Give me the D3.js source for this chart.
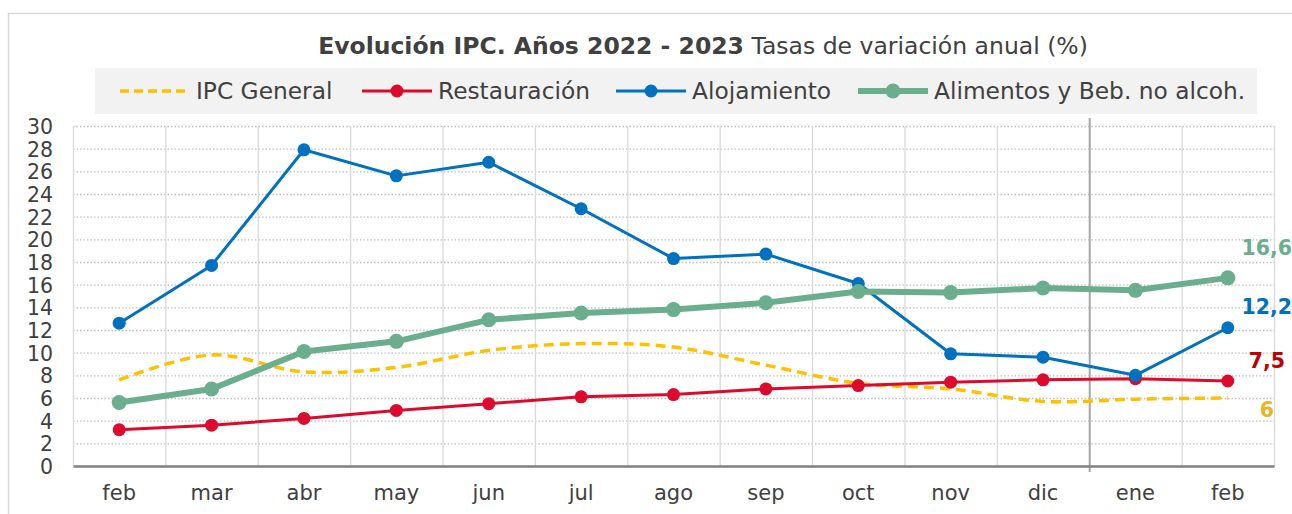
<!DOCTYPE html>
<html>
<head>
<meta charset="utf-8">
<script src="https://d3js.org/d3.v7.min.js"></script>
<style>
  body { margin: 0; background: #fff; }
  text { font-family: "DejaVu Sans", "Open Sans", sans-serif; fill: #404040; }
</style>
</head>
<body>
<div id="chart"></div>
<script>

// data
var months = ["feb", "mar", "abr", "may", "jun", "jul", "ago", "sep", "oct", "nov", "dic", "ene", "feb"];
var ipcGeneral   = [7.6, 9.8, 8.3, 8.7, 10.2, 10.8, 10.5, 8.9, 7.3, 6.8, 5.7, 5.9, 6.0];
var restauracion = [3.2, 3.6, 4.2, 4.9, 5.5, 6.1, 6.3, 6.8, 7.1, 7.4, 7.6, 7.7, 7.5];
var alojamiento  = [12.6, 17.7, 27.9, 25.6, 26.8, 22.7, 18.3, 18.7, 16.1, 9.9, 9.6, 8.0, 12.2];
var alimentos    = [5.6, 6.8, 10.1, 11.0, 12.9, 13.5, 13.8, 14.4, 15.4, 15.3, 15.7, 15.5, 16.6];
var seriesNames  = ["IPC General", "Restauración", "Alojamiento", "Alimentos y Beb. no alcoh."];
var endLabels    = ["6", "7,5", "12,2", "16,6"];
var yTicks = d3.range(0, 31, 2);

var W = 1292, H = 514;
var margin = {top: 126, right: 18, bottom: 48, left: 73};

var svg = d3.select("#chart").append("svg")
    .attr("width", W).attr("height", H);

// outer frame (cut off by the picture on the right and bottom)
svg.append("rect")
    .attr("x", 8.5).attr("y", 13.5)
    .attr("width", W).attr("height", H)
    .attr("fill", "none").attr("stroke", "#d9d9d9").attr("stroke-width", 1.5);

var x = d3.scaleBand()
    .domain(d3.range(months.length))
    .range([margin.left, W - margin.right])
    .paddingInner(0).paddingOuter(0);
var cx = function(i) { return x(i) + x.bandwidth() / 2; };

var y = d3.scaleLinear()
    .domain([0, 30])
    .range([H - margin.bottom, margin.top]);

// horizontal dotted gridlines
svg.append("g").selectAll("line")
  .data(yTicks.filter(function(d) { return d > 0; }))
  .enter().append("line")
    .attr("x1", margin.left).attr("x2", W - margin.right)
    .attr("y1", function(d) { return y(d) + 0.5; })
    .attr("y2", function(d) { return y(d) + 0.5; })
    .attr("stroke", "#bfbfbf").attr("stroke-width", 1.3)
    .attr("stroke-dasharray", "1.5,2");

// vertical gridlines between months
svg.append("g").selectAll("line")
  .data(d3.range(months.length + 1))
  .enter().append("line")
    .attr("x1", function(i) { return (i < months.length ? x(i) : x.range()[1]) + 0.5; })
    .attr("x2", function(i) { return (i < months.length ? x(i) : x.range()[1]) + 0.5; })
    .attr("y1", function(i) { return i == 11 ? margin.top - 8 : margin.top; })
    .attr("y2", function(i) { return i == 11 ? y(0) + 6 : y(0); })
    .attr("stroke", function(i) { return i == 11 ? "#a6a6a6" : "#d9d9d9"; })
    .attr("stroke-width", function(i) { return i == 11 ? 2 : 1.3; });

// y axis labels
var yAxis = svg.append("g")
    .attr("transform", "translate(" + (margin.left - 20) + ",0)")
    .call(d3.axisLeft(y).tickValues(yTicks).tickSize(0).tickPadding(0));
yAxis.select(".domain").remove();
yAxis.selectAll("text")
    .attr("font-size", 20.5).style("font-family", null)
    .attr("fill", "#3a3a3a").attr("dy", "0.36em");

// x axis
var xAxis = svg.append("g")
    .attr("transform", "translate(0," + y(0) + ")")
    .call(d3.axisBottom(x).tickFormat(function(i) { return months[i]; }).tickSize(0).tickPadding(19));
xAxis.select(".domain").attr("stroke", "#808080").attr("stroke-width", 2.5);
xAxis.selectAll("text")
    .attr("font-size", 21).style("font-family", null).attr("fill", "#404040");

// series, drawn in Excel order
var series = [
  {name: seriesNames[0], values: ipcGeneral,   color: "#ffc000", width: 3.5, dash: "10,6", r: 0,   curve: d3.curveCatmullRom.alpha(0.5), label: endLabels[0], labelColor: "#e8b624", dy: 12},
  {name: seriesNames[1], values: restauracion, color: "#dc0a2c", width: 3,   dash: null,   r: 6.5, curve: d3.curveLinear, label: endLabels[1], labelColor: "#c00000", dy: -20},
  {name: seriesNames[2], values: alojamiento,  color: "#0070c0", width: 3,   dash: null,   r: 6.5, curve: d3.curveLinear, label: endLabels[2], labelColor: "#0070c0", dy: -21},
  {name: seriesNames[3], values: alimentos,    color: "#6aae8e", width: 6,   dash: null,   r: 7.5, curve: d3.curveLinear, label: endLabels[3], labelColor: "#6aae8e", dy: -30}
];

series.forEach(function(s) {
  var line = d3.line()
      .x(function(d, i) { return cx(i); })
      .y(function(d) { return y(d); })
      .curve(s.curve);
  svg.append("path")
      .datum(s.values)
      .attr("d", line)
      .attr("fill", "none")
      .attr("stroke", s.color)
      .attr("stroke-width", s.width)
      .attr("stroke-dasharray", s.dash)
      .attr("stroke-linejoin", "round");
  if (s.r > 0) {
    svg.append("g").selectAll("circle")
      .data(s.values)
      .enter().append("circle")
        .attr("cx", function(d, i) { return cx(i); })
        .attr("cy", function(d) { return y(d); })
        .attr("r", s.r)
        .attr("fill", s.color);
  }
  var last = s.values.length - 1;
  svg.append("text")
      .attr("x", cx(last) + 39)
      .attr("y", y(s.values[last]) + s.dy)
      .attr("dy", "0.36em")
      .attr("text-anchor", "middle")
      .attr("font-size", 20.5).attr("font-weight", "bold")
      .style("fill", s.labelColor)
      .text(s.label);
});

// title
var title = svg.append("text")
    .attr("x", 703).attr("y", 46).attr("dy", "0.36em")
    .attr("text-anchor", "middle").attr("font-size", 23.5);
title.append("tspan").attr("font-weight", "bold").text("Evolución IPC. Años 2022 - 2023");
title.append("tspan").text(" Tasas de variación anual (%)");

// legend
svg.append("rect")
    .attr("x", 95).attr("y", 68).attr("width", 1162).attr("height", 46)
    .attr("fill", "#f2f2f2");

var legendX = [120, 362, 616, 858];
var legend = svg.append("g").selectAll("g")
  .data(series)
  .enter().append("g")
    .attr("transform", function(d, i) { return "translate(" + legendX[i] + ",91)"; });
legend.append("line")
    .attr("x1", 0).attr("x2", 70)
    .attr("stroke", function(d) { return d.color; })
    .attr("stroke-width", function(d) { return d.width; })
    .attr("stroke-dasharray", function(d) { return d.dash ? "9,5" : null; });
legend.filter(function(d) { return d.r > 0; }).append("circle")
    .attr("cx", 35).attr("r", function(d) { return d.r; })
    .attr("fill", function(d) { return d.color; });
legend.append("text")
    .attr("x", 76).attr("dy", "0.36em")
    .attr("font-size", 23.3)
    .text(function(d) { return d.name; });

</script>
</body>
</html>
